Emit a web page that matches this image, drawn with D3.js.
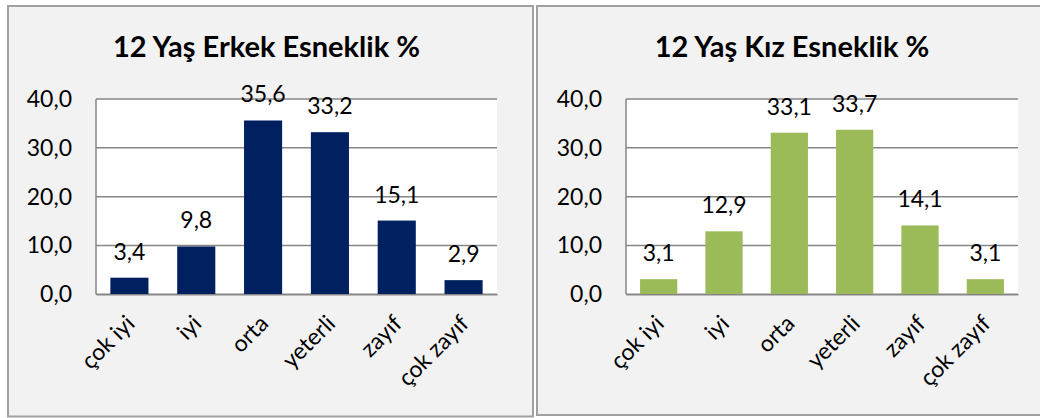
<!DOCTYPE html>
<html>
<head>
<meta charset="utf-8">
<script src="https://cdn.jsdelivr.net/npm/d3@7"></script>
<style>
  html, body { margin: 0; padding: 0; background: #ffffff; }
  svg { display: block; }
  text { font-family: Lato, "Open Sans", sans-serif; fill: #000; }
</style>
</head>
<body>
<svg id="chart" width="1040" height="418"></svg>
<script>
const categories = ["çok iyi", "iyi", "orta", "yeterli", "zayıf", "çok zayıf"];
const erkekValues = [3.4, 9.8, 35.6, 33.2, 15.1, 2.9];
const kizValues = [3.1, 12.9, 33.1, 33.7, 14.1, 3.1];
const yTickValues = [0, 10, 20, 30, 40];
const titles = ["12 Yaş Erkek Esneklik %", "12 Yaş Kız Esneklik %"];

const panels = [
  { title: titles[0], values: erkekValues, color: "#002060",
    box: [8, 6, 533, 416.5], plot: [96, 497, 99, 294.3], titleX: 266.5 },
  { title: titles[1], values: kizValues, color: "#9bbb59",
    box: [537, 6, 1046, 415], plot: [626, 1018, 99, 294.3], titleX: 792 }
];

const locale = d3.formatLocale({ decimal: ",", thousands: ".", grouping: [3], currency: ["", ""] });
const fmt = locale.format(".1f");
const FS = 23;

const svg = d3.select("#chart");

panels.forEach(p => {
  const g = svg.append("g");
  const [bx0, by0, bx1, by1] = p.box;
  g.append("rect")
    .attr("x", bx0).attr("y", by0)
    .attr("width", bx1 - bx0).attr("height", by1 - by0)
    .attr("fill", "#f2f2f2").attr("stroke", "#a0a0a0").attr("stroke-width", 2);

  const [pl, pr, pt, pb] = p.plot;
  const x = d3.scaleBand().domain(categories).range([pl, pr]).paddingInner(0.43).paddingOuter(0.215);
  const y = d3.scaleLinear().domain([0, 40]).range([pb, pt]);

  g.append("rect").attr("x", pl).attr("y", pt).attr("width", pr - pl).attr("height", pb - pt).attr("fill", "#ffffff");

  // gridlines
  g.append("g").selectAll("line").data(yTickValues).join("line")
    .attr("x1", pl).attr("x2", pr)
    .attr("y1", d => y(d)).attr("y2", d => y(d))
    .attr("stroke", "#868686").attr("stroke-width", 1.5);

  // left axis line
  g.append("line").attr("x1", pl).attr("x2", pl).attr("y1", pt).attr("y2", pb)
    .attr("stroke", "#868686").attr("stroke-width", 1.5);

  // bars
  g.append("g").selectAll("rect").data(p.values).join("rect")
    .attr("x", (d, i) => x(categories[i]))
    .attr("width", x.bandwidth())
    .attr("y", d => y(d))
    .attr("height", d => y(0) - y(d))
    .attr("fill", p.color);

  // y axis
  const yAxis = d3.axisLeft(y).tickValues(yTickValues).tickFormat(fmt).tickSize(0).tickPadding(24);
  const ya = g.append("g").attr("transform", `translate(${pl},0)`).call(yAxis);
  ya.select(".domain").remove();
  ya.selectAll("text").attr("font-size", FS).attr("font-family", "Lato, sans-serif").attr("fill", "#000");

  // x axis labels
  const xAxis = d3.axisBottom(x).tickSize(0).tickPadding(0);
  const xa = g.append("g").attr("transform", `translate(0,${pb})`).call(xAxis);
  xa.select(".domain").attr("stroke", "#868686").attr("stroke-width", 1.5);
  xa.selectAll("text")
    .attr("font-size", FS).attr("font-family", "Lato, sans-serif").attr("fill", "#000")
    .attr("text-anchor", "end")
    .attr("y", 0)
    .attr("dy", "0.35em")
    .attr("transform", "translate(1,25) rotate(-45)");

  // data labels
  g.append("g").selectAll("text").data(p.values).join("text")
    .attr("x", (d, i) => x(categories[i]) + x.bandwidth() / 2)
    .attr("y", d => y(d) - 18)
    .attr("text-anchor", "middle")
    .attr("font-size", FS)
    .text(d => fmt(d));

  // title
  g.append("text").attr("x", p.titleX).attr("y", 57)
    .attr("text-anchor", "middle").attr("font-size", 29).attr("font-weight", "bold")
    .text(p.title);
});
</script>
</body>
</html>
